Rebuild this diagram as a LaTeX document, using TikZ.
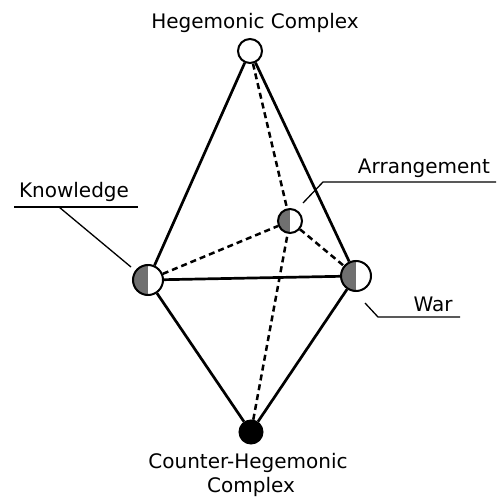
\documentclass[tikz,border=0pt]{standalone}
\usepackage{fontspec}
\setmainfont{DejaVu Sans}
\definecolor{halfgray}{RGB}{112,112,112}
\begin{document}
\begin{tikzpicture}[x=1pt,y=-1pt,
  vertex/.style={circle,draw=black,line width=2pt,inner sep=0pt,fill=white},
  half/.style={vertex,path picture={\fill[halfgray] (path picture bounding box.south west) rectangle (path picture bounding box.north);}},
  solidedge/.style={line width=2.7pt},
  dashededge/.style={line width=2.5pt,dash pattern=on 6pt off 4pt},
  leader/.style={line width=1.3pt},
  lbl/.style={font=\fontsize{20}{24}\selectfont,inner sep=0pt,anchor=base}]
\useasboundingbox (0,0) rectangle (503,497);
% vertices
\node[vertex,minimum size=24pt] (H) at (250,51) {};
\node[half,minimum size=30pt] (K) at (148,280) {};
\node[half,minimum size=24pt] (A) at (290,221) {};
\node[half,minimum size=30pt] (W) at (356,276) {};
\node[vertex,fill=black,minimum size=23pt] (C) at (251,432) {};
% dashed edges
\draw[dashededge] (H) -- (A);
\draw[dashededge] (K) -- (A);
\draw[dashededge] (A) -- (W);
\draw[dashededge] (C) -- (A);
% solid edges
\draw[solidedge] (H) -- (K);
\draw[solidedge] (H) -- (W);
\draw[solidedge] (K) -- (W);
\draw[solidedge] (K) -- (C);
\draw[solidedge] (W) -- (C);
% labels
\node[lbl] (Ht) at (255,29) {Hegemonic Complex};
\node[lbl] (Kt) at (74,197) {Knowledge};
\node[lbl] (At) at (424,174) {Arrangement};
\node[lbl] (Wt) at (433,311) {War};
\node[lbl] (Ct1) at (248,468) {Counter-Hegemonic};
\node[lbl] (Ct2) at (251,492) {Complex};
% leader lines
\coordinate (Kl1) at (14,207); \coordinate (Kl2) at (138,207);
\coordinate (Kk) at (59,207); \coordinate (Ke) at (131,267);
\draw[leader] (Kl1) -- (Kl2);
\draw[leader] (Kk) -- (Ke);
\coordinate (Al1) at (323,182); \coordinate (Al2) at (496,182);
\coordinate (Ae) at (303,203);
\draw[leader] (Al2) -- (Al1) -- (Ae);
\coordinate (Wl1) at (378,317); \coordinate (Wl2) at (460,317);
\coordinate (We) at (365,303);
\draw[leader] (Wl2) -- (Wl1) -- (We);
\end{tikzpicture}
\end{document}
